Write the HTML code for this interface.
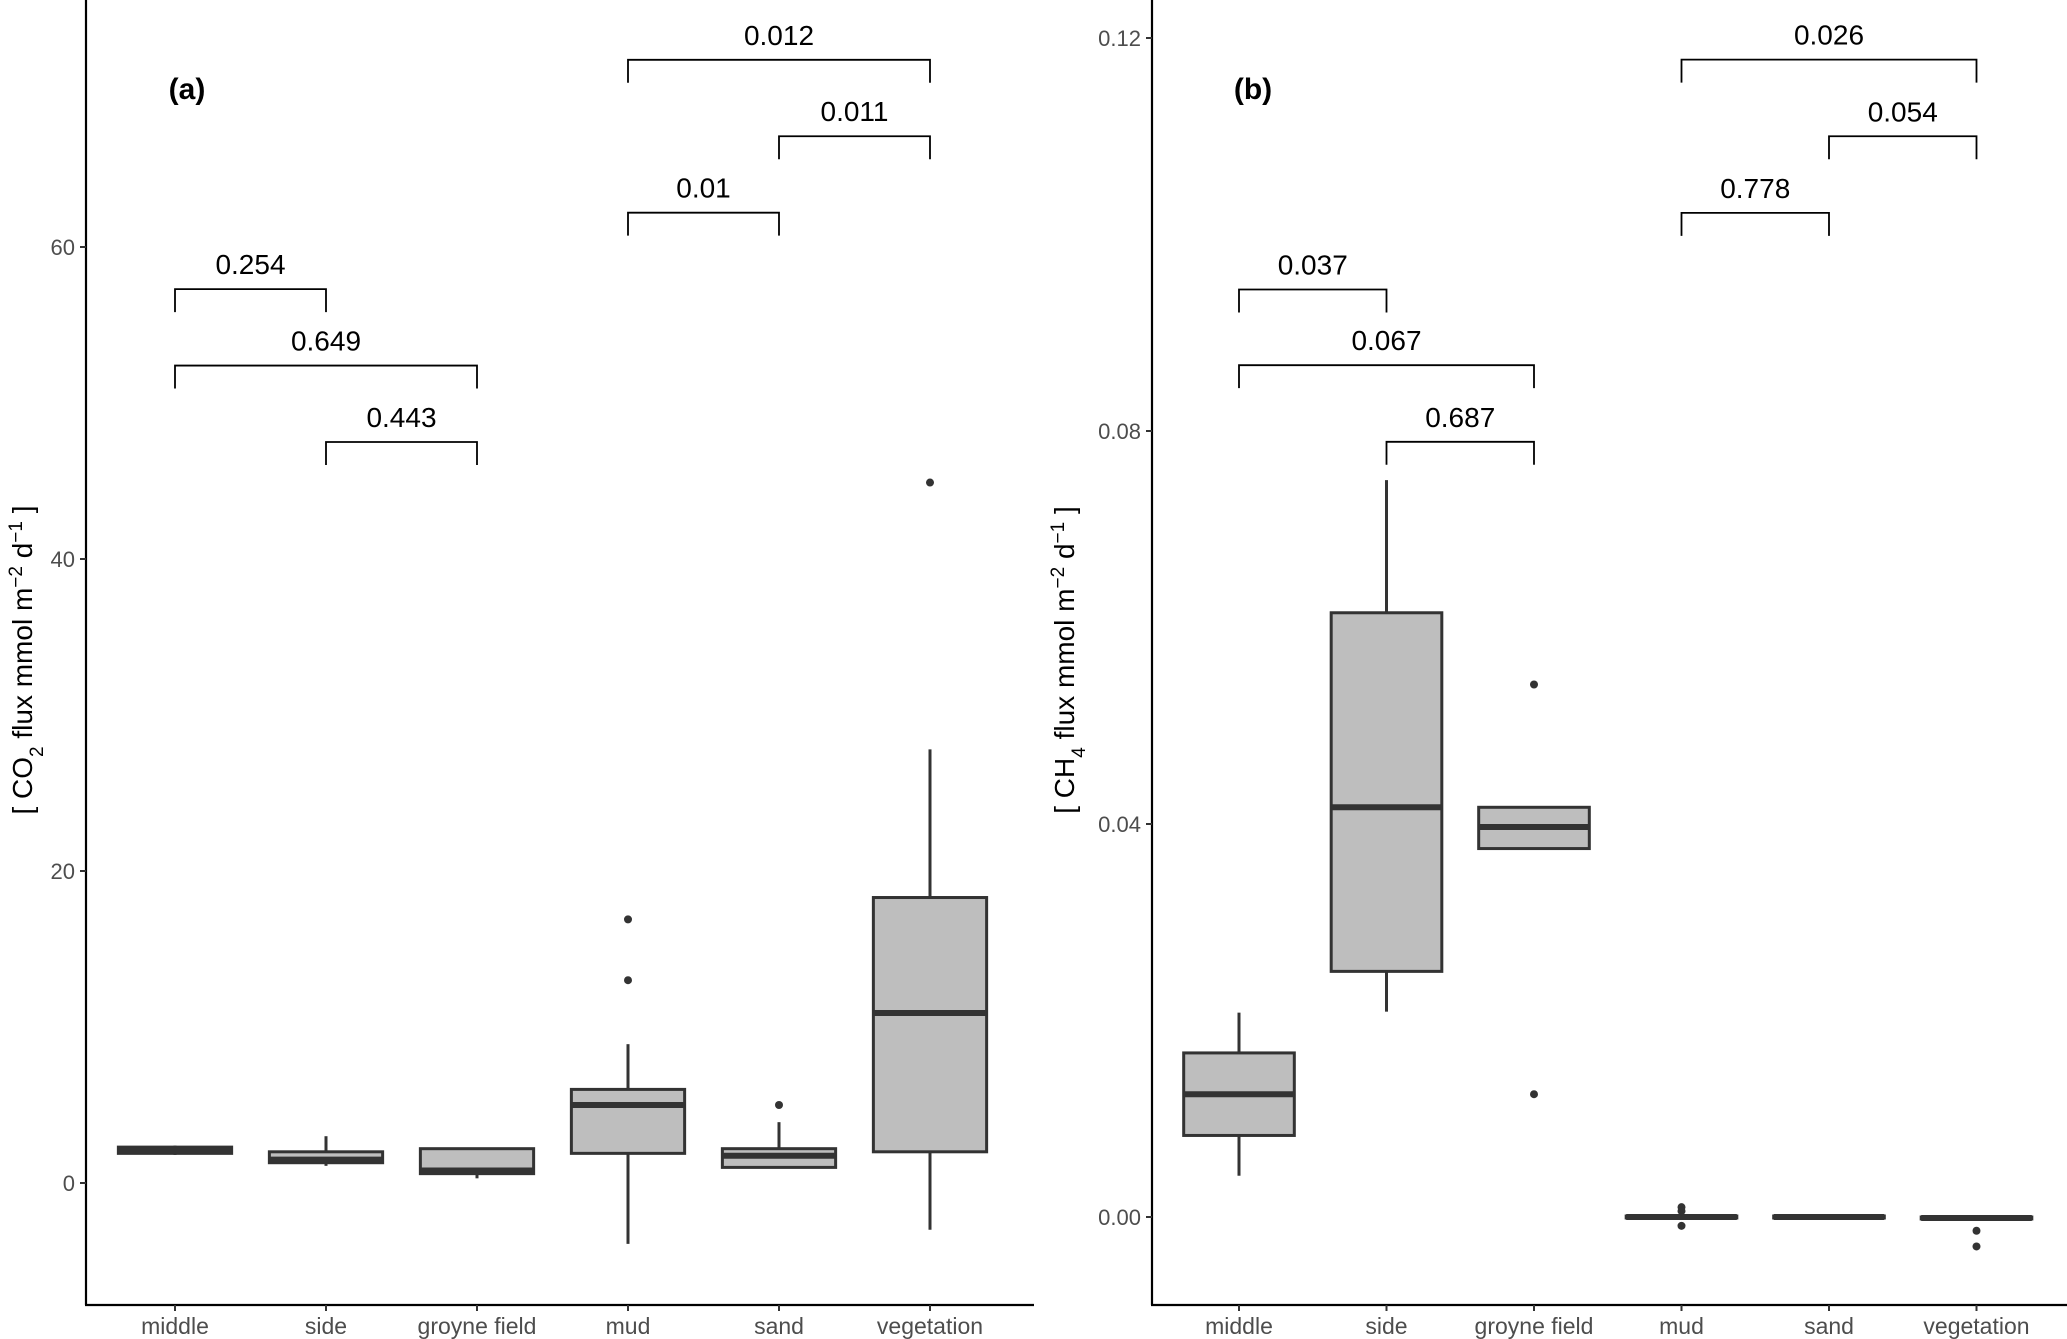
<!DOCTYPE html>
<html><head><meta charset="utf-8"><style>
html,body{margin:0;padding:0;background:#fff}
svg{display:block;font-family:"Liberation Sans",Arial,sans-serif}
</style></head><body>
<svg id="chart" width="2067" height="1339" viewBox="0 0 2067 1339" xmlns="http://www.w3.org/2000/svg"></svg>
<script>
const categories = ["middle","side","groyne field","mud","sand","vegetation"];
// Panel a (CO2)
const aLow    = [1.8, 1.1, 0.3, -3.9, 1.0, -3.0];
const aQ1     = [1.9, 1.3, 0.6, 1.9, 1.0, 2.0];
const aMedian = [2.1, 1.5, 0.8, 5.0, 1.75, 10.9];
const aQ3     = [2.3, 2.0, 2.2, 6.0, 2.2, 18.3];
const aHigh   = [2.4, 3.0, 2.2, 8.9, 3.9, 27.8];
const aOutliers = [[],[],[],[16.9,13.0],[5.0],[44.9]];
const aTicks = [0,20,40,60];
const aPairs = [[3,5],[4,5],[3,4],[0,1],[0,2],[1,2]];
const aPLabels = ["0.012","0.011","0.01","0.254","0.649","0.443"];
const aPY = [72.0,67.1,62.2,57.3,52.4,47.5];
// Panel b (CH4)
const bLow    = [0.0042, 0.0209, 0.0375, -0.0002, -0.0001, -0.0003];
const bQ1     = [0.0083, 0.0250, 0.0375, -0.0001, -0.0001, -0.0002];
const bMedian = [0.0125, 0.0417, 0.0397, 0.0000, 0.0000, -0.0001];
const bQ3     = [0.0167, 0.0615, 0.0417, 0.0001, 0.0001, 0.0000];
const bHigh   = [0.0208, 0.0750, 0.0417, 0.0003, 0.0002, 0.0001];
const bOutliers = [[],[],[0.0542,0.0125],[0.0010,0.0006,-0.0009],[],[-0.0014,-0.0030]];
const bTicks = [0.00,0.04,0.08,0.12];
const bTickLabels = ["0.00","0.04","0.08","0.12"];
const bPairs = [[3,5],[4,5],[3,4],[0,1],[0,2],[1,2]];
const bPLabels = ["0.026","0.054","0.778","0.037","0.067","0.687"];
const bPY = [0.1178,0.1100,0.1022,0.0944,0.0867,0.0789];

const svg = document.getElementById('chart');
const NS = "http://www.w3.org/2000/svg";
function mk(tag, attrs, parent){const e=document.createElementNS(NS,tag);for(const k in attrs)e.setAttribute(k,attrs[k]);(parent||svg).appendChild(e);return e;}

function panel(cfg){
  const g = mk('g',{});
  
  
  const x = i => cfg.x0 + i*cfg.step;
  const y = v => cfg.yZero - v*cfg.ppu;
  const bw = cfg.step*0.75;
  const ya = mk('line',{x1:cfg.axisX,y1:0,x2:cfg.axisX,y2:cfg.axisY,stroke:'#000','stroke-width':2.2},g);
  
  
  const xa = mk('line',{x1:cfg.axisX-1,y1:cfg.axisY,x2:cfg.axisR,y2:cfg.axisY,stroke:'#000','stroke-width':2.2},g);
  
  
  cfg.ticks.forEach((t,i)=>{
    const tk = mk('line',{x1:cfg.axisX-6,y1:y(t),x2:cfg.axisX,y2:y(t),stroke:'#333','stroke-width':2},g);
    
    
    const tl = mk('text',{x:cfg.axisX-11,y:y(t)+8,'text-anchor':'end','font-size':22,fill:'#4d4d4d'},g);
    tl.textContent = cfg.tickLabels[i];
    
    
  });
  categories.forEach((c,i)=>{
    const tk = mk('line',{x1:x(i),y1:cfg.axisY,x2:x(i),y2:cfg.axisY+6,stroke:'#333','stroke-width':2},g);
    
    
    const tl = mk('text',{x:x(i),y:cfg.axisY+29,'text-anchor':'middle','font-size':23,fill:'#4d4d4d'},g);
    tl.textContent = c;
    
    
  });
  categories.forEach((c,i)=>{
    const bg = mk('g',{},g);
    
    
    mk('line',{x1:x(i),y1:y(cfg.high[i]),x2:x(i),y2:y(cfg.q3[i]),stroke:'#333','stroke-width':3},bg);
    mk('line',{x1:x(i),y1:y(cfg.q1[i]),x2:x(i),y2:y(cfg.low[i]),stroke:'#333','stroke-width':3},bg);
    mk('rect',{x:x(i)-bw/2,y:y(cfg.q3[i]),width:bw,height:Math.max(0.5,y(cfg.q1[i])-y(cfg.q3[i])),fill:'#bebebe',stroke:'#333','stroke-width':3},bg);
    mk('line',{x1:x(i)-bw/2,y1:y(cfg.med[i]),x2:x(i)+bw/2,y2:y(cfg.med[i]),stroke:'#333','stroke-width':6},bg);
    cfg.out[i].forEach(o=>{
      const p = mk('circle',{cx:x(i),cy:y(o),r:4,fill:'#333'},bg);
      
      
    });
  });
  cfg.pairs.forEach((p,k)=>{
    const bg = mk('g',{},g);
    
    
    const yy = y(cfg.pY[k]);
    const x1 = x(p[0]), x2 = x(p[1]);
    mk('path',{d:`M${x1},${yy+23} V${yy} H${x2} V${yy+23}`,fill:'none',stroke:'#000','stroke-width':1.8},bg);
    const t = mk('text',{x:(x1+x2)/2,y:yy-15,'text-anchor':'middle','font-size':28,fill:'#000'},bg);
    t.textContent = cfg.pLabels[k];
    
    
  });
  const pl = mk('text',{x:cfg.axisX+101,y:99,'text-anchor':'middle','font-size':30,'font-weight':'bold',fill:'#000'},g);
  pl.textContent = cfg.tag;
  
  
  const yt = mk('text',{transform:`translate(${cfg.titleX},660) rotate(-90)`,'text-anchor':'middle','font-size':28,fill:'#000'},g);
  
  
  yt.innerHTML = `[ ${cfg.gas}<tspan baseline-shift="sub" font-size="19">${cfg.sub}</tspan> flux mmol m<tspan baseline-shift="super" font-size="19">−2</tspan> d<tspan baseline-shift="super" font-size="19">−1</tspan> ]`;
}

panel({name:'panel-a-co2',tag:'(a)',gas:'CO',sub:'2',titleX:32,axisX:86,axisY:1305,axisR:1034,x0:175,step:151,yZero:1183,ppu:15.6,
  ticks:aTicks,tickLabels:aTicks.map(String),low:aLow,q1:aQ1,med:aMedian,q3:aQ3,high:aHigh,out:aOutliers,pairs:aPairs,pLabels:aPLabels,pY:aPY});
panel({name:'panel-b-ch4',tag:'(b)',gas:'CH',sub:'4',titleX:1074,axisX:1152,axisY:1305,axisR:2067,x0:1239,step:147.5,yZero:1217,ppu:9825,
  ticks:bTicks,tickLabels:bTickLabels,low:bLow,q1:bQ1,med:bMedian,q3:bQ3,high:bHigh,out:bOutliers,pairs:bPairs,pLabels:bPLabels,pY:bPY});
</script>
</body></html>
